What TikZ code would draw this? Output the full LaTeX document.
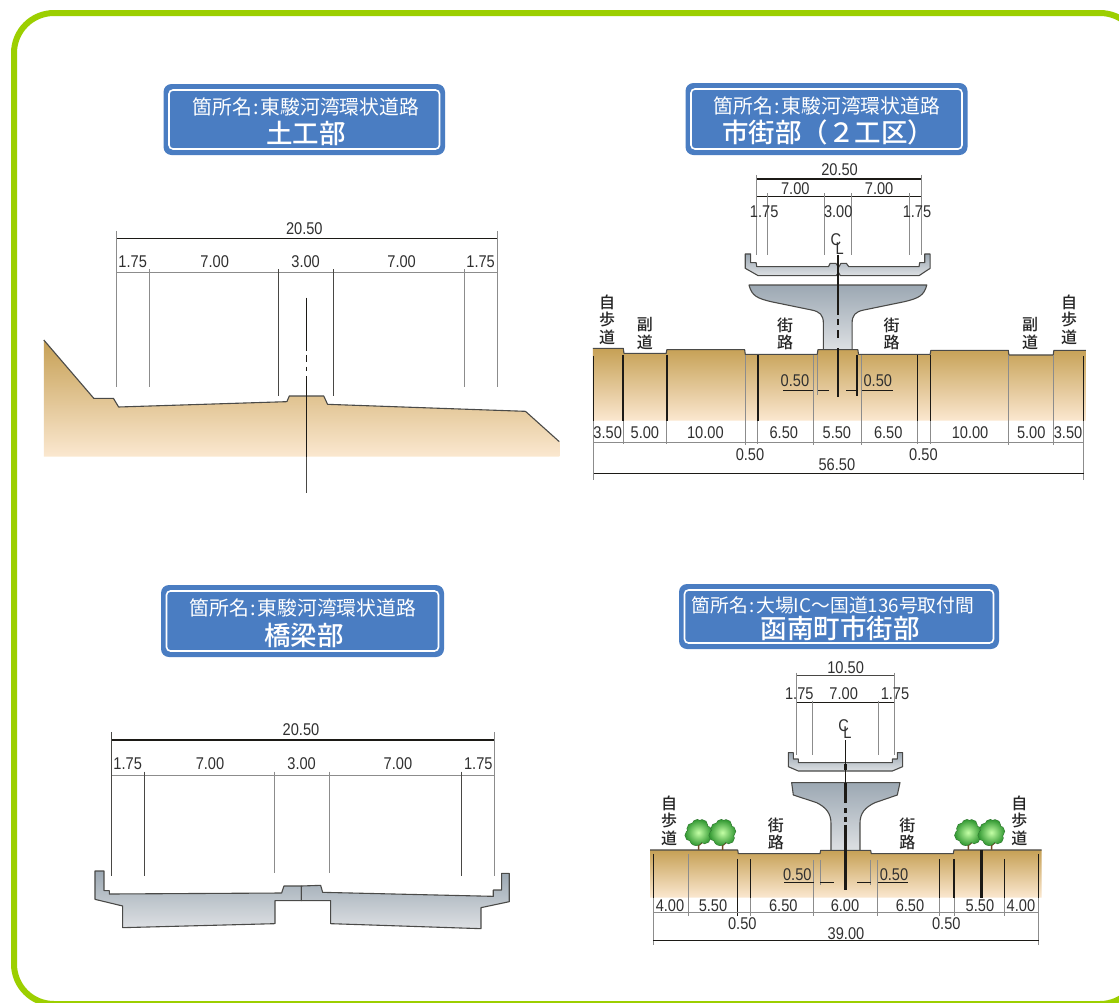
\documentclass[tikz,border=0pt]{standalone}
\usepackage{fontspec}
\setmainfont{Liberation Sans}
\newfontfamily\cjkf{Noto Sans CJK JP}
\newfontfamily\cjkm[UprightFont=* Medium]{Noto Sans CJK JP}
\newfontfamily\dimf[FakeStretch=0.86]{Liberation Sans}
\definecolor{framegreen}{HTML}{9CCF00}
\definecolor{bannerblue}{HTML}{4A7DC2}
\definecolor{soiltop}{HTML}{C6A055}
\definecolor{soilbot}{HTML}{FBE8D0}
\definecolor{greytop}{HTML}{9CA8B3}
\definecolor{greybot}{HTML}{DDE0E3}
\definecolor{thinline}{HTML}{8C8C8C}
\definecolor{darkline}{HTML}{1C1A16}
\definecolor{edge}{HTML}{4A4A48}
\definecolor{numtext}{HTML}{303030}
\newcount\autonode
\newcommand\dm[3]{\global\advance\autonode by 1 \node[dimtext] (d\the\autonode) at (#1,#2) {#3};}
\newcommand\vtxt[3]{\global\advance\autonode by 1 \node[vlabel] (d\the\autonode) at (#1,#2) {#3};}
\newcommand\vthin[3]{\draw[thinln] (#1,#2) -- (#1,#3);}
\newcommand\vdark[3]{\draw[darkln] (#1,#2) -- (#1,#3);}
\newcommand\vfine[3]{\draw[fineln] (#1,#2) -- (#1,#3);}
\newcommand\hthin[3]{\draw[thinln] (#1,#3) -- (#2,#3);}
\newcommand\hdark[3]{\draw[darkln] (#1,#3) -- (#2,#3);}
\newcommand\banner[9]{%
  \global\advance\autonode by 1
  \path[bannerout] (#1,#2) rectangle (#3,#4);
  \path[bannerin] ({#1+5.5},{#2+6}) rectangle ({#3-5.5},{#4-6});
  \node[bannerone] (b\the\autonode a) at (#5,#6) {#9};
  \node[bannertwo] (b\the\autonode b) at (#7,#8) {\bannersecond};
}
\newcommand\treeat[1]{%
  \begin{scope}[shift={(#1,518)}]
    \draw[line width=1.6pt,color=brown!60!black] (0,52) -- (0,28) (0,38) -- (-12,28) (0,38) -- (12,28);
    \draw[line width=1.1pt,color=green!35!black!80] (-18,-12) circle (5.5pt) (10,-22) circle (5.5pt) (-4,-24) circle (5pt) (22,-4) circle (5.5pt) (-24,8) circle (5.5pt) (18,16) circle (5.5pt) (-8,20) circle (6pt) (0,0) circle (8pt);
    \shade[inner color=green!55!lime!35!white,outer color=green!50!black!80!white,shading=radial] (-18,-12) circle (5.5pt) (10,-22) circle (5.5pt) (-4,-24) circle (5pt) (22,-4) circle (5.5pt) (-24,8) circle (5.5pt) (18,16) circle (5.5pt) (-8,20) circle (6pt) (0,0) circle (9pt);
  \end{scope}}
\newcommand\colonsp{\hspace{1.5pt}:\hspace{1.5pt}}
\tikzset{
  thinln/.style={line width=.8pt,color=thinline},
  fineln/.style={line width=.7pt,color=darkline!80},
  darkln/.style={line width=1.2pt,color=darkline},
  heavy/.style={line width=1.6pt,color=darkline},
  dimtext/.style={inner sep=0pt,text=numtext,font=\dimf\fontsize{17}{17}\selectfont},
  vlabel/.style={inner sep=0pt,align=center,text=black!85,font=\cjkm\fontsize{16}{17.5}\selectfont},
  bannerout/.style={fill=bannerblue,rounded corners=8pt},
  bannerin/.style={draw=white,line width=1.6pt,rounded corners=4pt},
  bannerone/.style={inner sep=0pt,text=white,font=\cjkf\fontsize{19.8}{20}\selectfont},
  bannertwo/.style={inner sep=0pt,text=white,font=\cjkm\fontsize{26.5}{27}\selectfont},
  soil/.style={top color=soiltop,bottom color=soilbot},
  concrete/.style={top color=greytop,bottom color=greybot},
  edgeln/.style={line width=1.1pt,color=edge,line join=round},
  zA/.style={shift={(580,80)},x=.338pt,y=-.3333pt},
  zB/.style={shift={(580,280)},x=.338pt,y=-.3333pt},
  zC/.style={shift={(640,660)},x=.3333pt,y=-.3333pt},
  zD/.style={shift={(80,850)},x=.3333pt,y=-.3333pt},
  zE/.style={shift={(30,330)},x=.3448pt,y=-.3333pt},
  zF/.style={shift={(100,75)},x=.3333pt,y=-.3333pt},
  zG/.style={shift={(90,575)},x=.3333pt,y=-.3333pt},
}
\begin{document}
\begin{tikzpicture}[x=1pt,y=-1pt]
\useasboundingbox (0,0) rectangle (1119,1002);
\fill[white] (0,0) rectangle (1119,1002);
\begin{scope}
\clip (0,0) rectangle (1119,1002);
\draw[framegreen,line width=6pt,rounded corners=40pt] (14,13) rectangle (1140,1004);
\end{scope}

% ---------- banners
\def\bannersecond{土工部}
\banner{163.5}{84}{445}{155}{306}{107}{306}{133}{箇所名\colonsp 東駿河湾環状道路}
\def\bannersecond{市街部（２工区）}
\banner{685.5}{83}{967.5}{155}{827}{106}{828}{132}{箇所名\colonsp 東駿河湾環状道路}
\def\bannersecond{橋梁部}
\banner{161}{585}{444}{657}{303}{608}{304}{635}{箇所名\colonsp 東駿河湾環状道路}
\def\bannersecond{函南町市街部}
\banner{679}{584}{999}{649}{833}{605}{840}{628}{\fontsize{18.8}{19}\selectfont 箇所名\colonsp 大場IC～国道136号取付間}

% ---------- top left: earthwork
\begin{scope}[zE]
\path[soil] (40,30) -- (185,205) -- (242,205) -- (257,231) -- (745,215) -- (752,198) -- (852,198) -- (863,223) -- (1437,244) -- (1535,335) -- (1535,380) -- (40,380) -- cycle;
\draw[edgeln] (40,30) -- (185,205) -- (242,205) -- (257,231) -- (745,215) -- (752,198) -- (852,198) -- (863,223) -- (1437,244) -- (1535,335);
\end{scope}
\begin{scope}[zF]
\hdark{50}{1192}{491}
\hthin{50}{1192}{592}
\vthin{50}{468}{936}
\vthin{1192}{468}{936}
\vthin{149}{583}{936}
\vthin{1092}{583}{936}
\draw[fineln] (536,583) -- (536,963) (700,583) -- (700,963);
\draw[heavy] (620,668) -- (620,827) (620,840) -- (620,860) (620,875) -- (620,888) (620,903) -- (620,1145);
\draw[fineln] (620,1145) -- (620,1253);
\dm{613}{462}{20.50}
\dm{98}{560}{1.75}
\dm{344}{560}{7.00}
\dm{617}{560}{3.00}
\dm{905}{560}{7.00}
\dm{1142}{560}{1.75}
\end{scope}

% ---------- bottom left: bridge
\begin{scope}[zD]
\path[concrete] (45,63) -- (72,63) -- (72,122) -- (88,122) -- (88,132) -- (605,129) -- (612,108) -- (664,108) -- (664,152) -- (585,152) -- (585,221) -- (128,233) -- (128,168) -- (45,148) -- cycle;
\draw[edgeln] (45,63) -- (72,63) -- (72,122) -- (88,122) -- (88,132) -- (605,129) -- (612,108) -- (664,108) -- (664,152) -- (585,152) -- (585,221) -- (128,233) -- (128,168) -- (45,148) -- cycle;
\path[concrete] (664,108) -- (722,106) -- (728,127) -- (1240,139) -- (1240,120) -- (1265,120) -- (1265,70) -- (1288,70) -- (1288,155) -- (1203,173) -- (1203,236) -- (752,221) -- (752,152) -- (664,152) -- cycle;
\draw[edgeln] (664,108) -- (722,106) -- (728,127) -- (1240,139) -- (1240,120) -- (1265,120) -- (1265,70) -- (1288,70) -- (1288,155) -- (1203,173) -- (1203,236) -- (752,221) -- (752,152) -- (664,152) -- cycle;
\end{scope}
\begin{scope}[zG]
\hdark{65}{1213}{495}
\hthin{65}{1213}{600}
\vfine{65}{472}{903}
\vthin{1213}{472}{903}
\vfine{163}{590}{903}
\vfine{1113}{590}{903}
\vthin{553}{590}{893}
\vthin{718}{590}{893}
\dm{633}{465}{20.50}
\dm{113}{565}{1.75}
\dm{360}{565}{7.00}
\dm{635}{565}{3.00}
\dm{924}{565}{7.00}
\dm{1165}{565}{1.75}
\end{scope}

% ---------- top right: upper structure
\begin{scope}[zB]
\path[concrete] (500,15) -- (1026,15) .. controls (1018,48) and (1000,55) .. (960,65) -- (840,90) .. controls (815,95) and (805,105) .. (805,130) -- (805,210) -- (720,210) -- (720,130) .. controls (720,105) and (710,95) .. (685,90) -- (565,65) .. controls (525,55) and (508,48) .. (500,15) -- cycle;
\draw[edgeln] (805,208) -- (805,130) .. controls (805,105) and (815,95) .. (840,90) -- (960,65) .. controls (1000,55) and (1018,48) .. (1026,15) -- (500,15) .. controls (508,48) and (525,55) .. (565,65) -- (685,90) .. controls (710,95) and (720,105) .. (720,130) -- (720,208);
\path[soil] (38,205) -- (128,205) -- (130,220) -- (255,220) -- (257,209) -- (487,209) -- (489,223) -- (702,223) -- (704,209) -- (822,209) -- (824,223) -- (1036,223) -- (1038,211) -- (1267,211) -- (1269,225) -- (1400,225) -- (1402,211) -- (1497,211) -- (1497,422) -- (38,422) -- cycle;
\draw[edgeln] (38,205) -- (128,205) -- (130,220) -- (255,220) -- (257,209) -- (487,209) -- (489,223) -- (702,223) -- (704,209) -- (822,209) -- (824,223) -- (1036,223) -- (1038,211) -- (1267,211) -- (1269,225) -- (1400,225) -- (1402,211) -- (1497,211);
\foreach \xx in {127,257,526,999,1037}{\vthin{\xx}{422}{492}\draw[heavy] (\xx,226) -- (\xx,422);}
\foreach \xx in {40,1490}{\vthin{\xx}{422}{600}\draw[heavy] (\xx,228) -- (\xx,422);}
\foreach \xx in {489,690,832,1268,1400}{\vthin{\xx}{225}{495}}
\vthin{702}{225}{345}
\draw[heavy] (820,225) -- (820,348);
\hthin{40}{1490}{488}
\hdark{40}{1490}{580}
\draw[heavy] (602,332) -- (690,332) (704,332) -- (736,332) (788,332) -- (820,332) (834,332) -- (925,332);
\draw[heavy] (764,-20) -- (764,105) (764,118) -- (764,135) (764,150) -- (764,175) (764,205) -- (764,350);
\foreach \xx/\tt in {82/3.50,192/5.00,371/10.00,603/6.50,760/5.50,912/6.50,1154/10.00,1335/5.00,1444/3.50}{\dm{\xx}{458}{\tt}}
\dm{503}{523}{0.50}
\dm{1016}{523}{0.50}
\dm{760}{553}{56.50}
\dm{636}{303}{0.50}
\dm{881}{303}{0.50}
\vtxt{80}{118}{自\\歩\\道}
\vtxt{192}{160}{副\\道}
\vtxt{607}{162}{街\\路}
\vtxt{922}{162}{街\\路}
\vtxt{1332}{160}{副\\道}
\vtxt{1447}{118}{自\\歩\\道}
\end{scope}
\begin{scope}[zA]
\path[concrete] (489,522) -- (505,522) -- (505,548) -- (521,548) -- (523,560) -- (735,560) -- (740,550) -- (757,550) -- (765,562) -- (772,550) -- (788,550) -- (795,560) -- (1003,560) -- (1005,548) -- (1020,548) -- (1020,522) -- (1036,522) -- (1036,565) -- (1003,587) -- (770,587) -- (765,578) -- (758,587) -- (527,587) -- (489,565) -- cycle;
\draw[edgeln] (489,522) -- (505,522) -- (505,548) -- (521,548) -- (523,560) -- (735,560) -- (740,550) -- (757,550) -- (765,562) -- (772,550) -- (788,550) -- (795,560) -- (1003,560) -- (1005,548) -- (1020,548) -- (1020,522) -- (1036,522) -- (1036,565) -- (1003,587) -- (770,587) -- (765,578) -- (758,587) -- (527,587) -- (489,565) -- cycle;
\draw[line width=1.6pt,color=darkline] (521,297) -- (1009,297);
\draw[darkln,line width=1pt] (521,351) -- (1009,351);
\foreach \xx in {521,1009}{\vthin{\xx}{285}{525}}
\foreach \xx in {554,724,803,975}{\vthin{\xx}{340}{525}}
\draw[heavy] (764,525) -- (764,615);
\dm{768}{268}{20.50}
\dm{637}{327}{7.00}
\dm{885}{327}{7.00}
\dm{545}{395}{1.75}
\dm{764}{395}{3.00}
\dm{997}{395}{1.75}
\dm{757}{480}{C}
\dm{768}{506}{L}
\end{scope}

% ---------- bottom right
\begin{scope}[zC]
\path[concrete] (455,368) -- (780,368) -- (772,405) -- (705,428) .. controls (675,442) and (660,460) .. (660,490) -- (660,572) -- (573,572) -- (573,490) .. controls (573,460) and (558,442) .. (530,428) -- (460,405) -- cycle;
\draw[edgeln] (660,570) -- (660,490) .. controls (660,460) and (675,442) .. (705,428) -- (772,405) -- (780,368) -- (455,368) -- (460,405) -- (530,428) .. controls (558,442) and (573,460) .. (573,490) -- (573,570);
\path[concrete] (445,278) -- (460,278) -- (460,297) -- (475,297) -- (475,308) -- (757,308) -- (757,297) -- (772,297) -- (772,278) -- (788,278) -- (788,320) -- (757,333) -- (475,333) -- (445,320) -- cycle;
\draw[edgeln] (445,278) -- (460,278) -- (460,297) -- (475,297) -- (475,308) -- (757,308) -- (757,297) -- (772,297) -- (772,278) -- (788,278) -- (788,320) -- (757,333) -- (475,333) -- (445,320) -- cycle;
\path[soil] (30,570) -- (293,570) -- (295,581) -- (540,581) -- (542,571) -- (692,571) -- (694,581) -- (940,581) -- (942,570) -- (1205,570) -- (1205,713) -- (30,713) -- cycle;
\draw[edgeln] (30,570) -- (293,570) -- (295,581) -- (540,581) -- (542,571) -- (692,571) -- (694,581) -- (940,581) -- (942,570) -- (1205,570);
\treeat{176}\treeat{248}\treeat{985}\treeat{1055}
\foreach \xx in {40,1196}{\vthin{\xx}{713}{855}\draw[heavy] (\xx,582) -- (\xx,713);}
\vthin{144}{582}{768}
\vthin{521}{600}{768}
\vthin{712}{600}{768}
\vthin{541}{600}{675}
\vthin{691}{600}{675}
\vdark{292}{597}{768}
\foreach \xx in {332,899}{\vthin{\xx}{713}{768}\draw[heavy] (\xx,597) -- (\xx,713);}
\foreach \xx in {942,1093}{\vthin{\xx}{713}{768}\draw[heavy] (\xx,597) -- (\xx,713);}
\draw[line width=2.4pt,color=darkline] (1024,570) -- (1024,713);
\draw[thinln,line width=1.2pt] (40,758) -- (1196,758);
\hdark{40}{1196}{842}
\draw[heavy] (433,667) -- (521,667) (541,667) -- (582,667) (652,667) -- (692,667) (713,667) -- (803,667);
\draw[darkln] (617,240) -- (617,312) (617,330) -- (617,370);
\draw[line width=2.6pt,color=darkline] (617,312) -- (617,330) (617,370) -- (617,430) (617,445) -- (617,458) (617,470) -- (617,485) (617,495) -- (617,690);
\hdark{470}{762}{128}
\draw[fineln,line width=.9pt] (470,46) -- (762,46);
\foreach \xx in {470,762}{\vthin{\xx}{38}{285}}
\foreach \xx in {517,715}{\vthin{\xx}{122}{285}}
\dm{617}{22}{10.50}
\dm{478}{102}{1.75}
\dm{611}{102}{7.00}
\dm{765}{102}{1.75}
\dm{611}{197}{C}
\dm{622}{218}{L}
\foreach \xx/\tt in {90/4.00,219/5.50,430/6.50,615/6.00,810/6.50,1020/5.50,1143/4.00}{\dm{\xx}{738}{\tt}}
\dm{307}{790}{0.50}
\dm{919}{790}{0.50}
\dm{618}{820}{39.00}
\dm{472}{645}{0.50}
\dm{762}{645}{0.50}
\vtxt{87}{482}{自\\歩\\道}
\vtxt{408}{522}{街\\路}
\vtxt{802}{522}{街\\路}
\vtxt{1138}{482}{自\\歩\\道}
\end{scope}
\end{tikzpicture}
\end{document}
